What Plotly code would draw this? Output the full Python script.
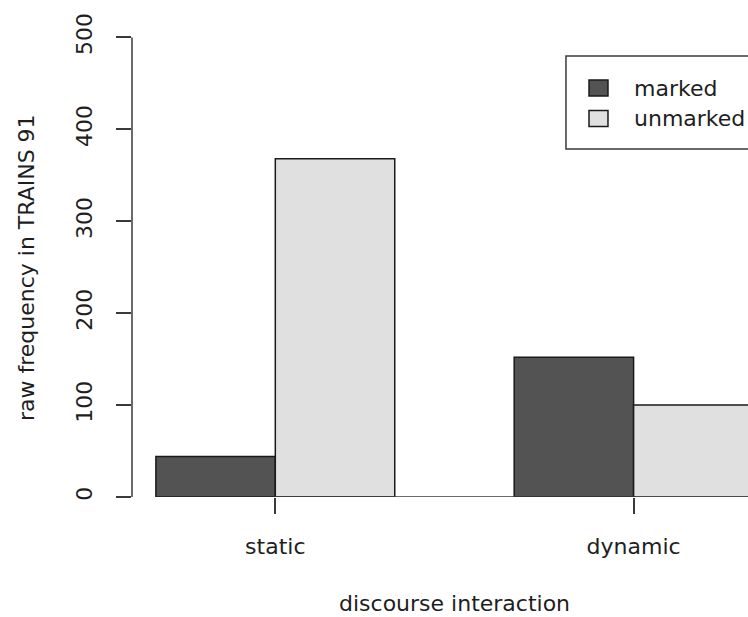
import plotly.graph_objects as go

# ---- data ----
categories = ["static", "dynamic"]
series_names = ["marked", "unmarked"]
marked = [44, 152]
unmarked = [368, 100]
y_ticks = [0, 100, 200, 300, 400, 500]
x_title = "discourse interaction"
y_title = "raw frequency in TRAINS 91"

colors = ["#535353", "#e0e0e0"]
FONT = "DejaVu Sans"
TXT = "#1e1e1e"
AX = "#3a3a3a"

fig = go.Figure()
for name, vals, col in zip(series_names, [marked, unmarked], colors):
    fig.add_trace(go.Bar(
        x=categories, y=vals, name=name,
        marker=dict(color=col, line=dict(color="#1a1a1a", width=1.5)),
        showlegend=False,
    ))

fig.update_layout(
    width=748, height=617,
    margin=dict(l=132, r=0, t=19, b=120),
    paper_bgcolor="white", plot_bgcolor="white",
    barmode="group", bargap=1/3, bargroupgap=0,
    font=dict(family=FONT, size=22, color=TXT),
)

fig.update_xaxes(
    type="category", range=[-0.4, 1.3193],
    showgrid=False, zeroline=False, showline=False,
    ticks="outside", ticklen=16, tickwidth=1.5, tickcolor=AX,
    ticklabelstandoff=14,
    tickfont=dict(family=FONT, size=22, color=TXT),
)
fig.update_yaxes(
    range=[0, 520], tickvals=y_ticks, ticktext=[str(v) for v in y_ticks],
    showgrid=False, zeroline=False, showline=False,
    ticks="outside", ticklen=15, tickwidth=1.5, tickcolor=AX,
    tickangle=-90, ticklabelstandoff=15,
    tickfont=dict(family=FONT, size=22, color=TXT),
)

# R-style axis lines spanning first to last tick
fig.add_shape(type="line", xref="paper", yref="y", x0=0, x1=0,
              y0=y_ticks[0], y1=y_ticks[-1], line=dict(color=AX, width=1.5))
fig.add_shape(type="line", xref="x", yref="y", x0=0, x1=len(categories) - 1,
              y0=0, y1=0, line=dict(color=AX, width=1.5))

# axis titles
fig.add_annotation(text=x_title, xref="paper", yref="paper", x=0.524, y=-0.2238,
                   xanchor="center", yanchor="middle", showarrow=False,
                   font=dict(family=FONT, size=22, color=TXT))
fig.add_annotation(text=y_title, xref="paper", yref="paper", x=-0.172, y=0.479,
                   textangle=-90, xanchor="center", yanchor="middle", showarrow=False,
                   font=dict(family=FONT, size=22, color=TXT))

# legend box (R-style, clipped at right edge)
fig.add_shape(type="rect", xref="paper", yref="paper", x0=0.7045, x1=1.3,
              y0=0.728, y1=0.9226, line=dict(color=AX, width=1.5), fillcolor="rgba(0,0,0,0)")
row_y = [0.8556, 0.7918]
for name, col, yc in zip(series_names, colors, row_y):
    fig.add_shape(type="rect", xref="paper", yref="paper", x0=0.7419, x1=0.7727,
                  y0=yc - 0.0167, y1=yc + 0.0167,
                  line=dict(color="#1a1a1a", width=1.5), fillcolor=col)
    fig.add_annotation(text=name, xref="paper", yref="paper", x=0.8117, y=yc,
                       xanchor="left", yanchor="middle", showarrow=False,
                       font=dict(family=FONT, size=22, color=TXT))

fig.write_html("out.html")
